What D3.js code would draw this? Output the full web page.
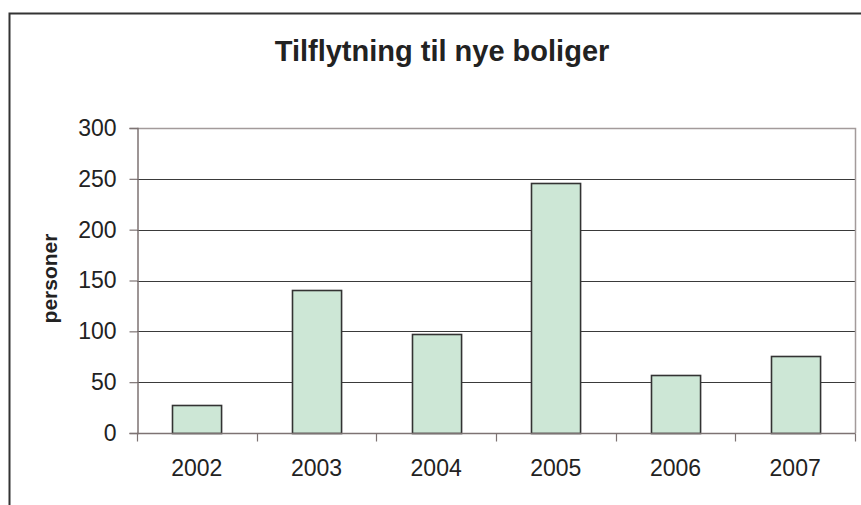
<!DOCTYPE html>
<html>
<head>
<meta charset="utf-8">
<script src="https://cdn.jsdelivr.net/npm/d3@7"></script>
<style>
  html, body { margin: 0; padding: 0; background: #fff; }
</style>
</head>
<body>
<script>
const years = ["2002", "2003", "2004", "2005", "2006", "2007"];
const persons = [28, 141, 97, 246, 57, 76];
const yTicks = [0, 50, 100, 150, 200, 250, 300];

const width = 861;
const height = 505;
const plot = { left: 137, top: 128, right: 855, bottom: 433 };
const font = "'Liberation Sans', Arial, Helvetica, sans-serif";

const colors = {
  text: "#222",
  frame: "#333",
  grid: "#3a3a3a",
  axis: "#7d7373",
  plotEdge: "#a39b9b",
  barFill: "#cde7d6",
  barStroke: "#333",
};

const svg = d3.select("body")
  .append("svg")
  .attr("width", width)
  .attr("height", height)
  .attr("viewBox", `0 0 ${width} ${height}`);

svg.append("rect").attr("width", width).attr("height", height).attr("fill", "#fff");

// outer chart frame (runs off the right and bottom edge)
svg.append("rect")
  .attr("x", 9.5)
  .attr("y", 13.5)
  .attr("width", 900)
  .attr("height", 600)
  .attr("fill", "none")
  .attr("stroke", colors.frame)
  .attr("stroke-width", 2);

svg.append("text")
  .attr("x", 442)
  .attr("y", 61)
  .attr("text-anchor", "middle")
  .attr("fill", colors.text)
  .attr("font-family", font)
  .attr("font-size", 29)
  .attr("font-weight", 700)
  .text("Tilflytning til nye boliger");

const x = d3.scaleBand()
  .domain(years)
  .range([plot.left, plot.right])
  .paddingInner(0.59)
  .paddingOuter(0.295);

const y = d3.scaleLinear()
  .domain([0, 300])
  .range([plot.bottom, plot.top]);

// gridlines
svg.append("g")
  .selectAll("line")
  .data(yTicks.filter((d) => d > 0 && d < 300))
  .join("line")
  .attr("x1", plot.left)
  .attr("x2", plot.right)
  .attr("y1", (d) => Math.round(y(d)) + 0.5)
  .attr("y2", (d) => Math.round(y(d)) + 0.5)
  .attr("stroke", colors.grid)
  .attr("stroke-width", 1);

// plot area top and right edge
svg.append("path")
  .attr("d", `M${plot.left},${plot.top + 0.5}H${plot.right + 0.5}V${plot.bottom}`)
  .attr("fill", "none")
  .attr("stroke", colors.plotEdge)
  .attr("stroke-width", 1.5);

// bars
svg.append("g")
  .selectAll("rect")
  .data(years)
  .join("rect")
  .attr("x", (d) => Math.round(x(d)) + 0.5)
  .attr("y", (d, i) => Math.round(y(persons[i])) + 0.5)
  .attr("width", x.bandwidth())
  .attr("height", (d, i) => Math.round(y(0)) - Math.round(y(persons[i])))
  .attr("fill", colors.barFill)
  .attr("stroke", colors.barStroke)
  .attr("stroke-width", 1.6);

// y axis
svg.append("g")
  .attr("transform", `translate(${plot.left + 0.5},0)`)
  .call(d3.axisLeft(y).tickValues(yTicks).tickSize(8).tickPadding(13))
  .call((g) => g.select(".domain").attr("stroke", colors.axis).attr("stroke-width", 1.5))
  .call((g) => g.selectAll(".tick line").attr("stroke", colors.axis).attr("stroke-width", 1.2))
  .call((g) => g.selectAll(".tick text")
    .attr("fill", colors.text)
    .attr("font-family", font)
    .attr("font-size", 23));

// x axis: ticks at category boundaries
const xAxis = svg.append("g")
  .attr("transform", `translate(0,${Math.round(plot.bottom) + 0.5})`);

xAxis.append("line")
  .attr("x1", plot.left)
  .attr("x2", plot.right + 0.5)
  .attr("stroke", colors.axis)
  .attr("stroke-width", 1.5);

const step = x.step();
const edges = d3.range(years.length + 1).map((i) => plot.left + i * step);
xAxis.selectAll("line.tick")
  .data(edges)
  .join("line")
  .attr("class", "tick")
  .attr("x1", (d) => Math.round(d) + 0.5)
  .attr("x2", (d) => Math.round(d) + 0.5)
  .attr("y1", 0)
  .attr("y2", 8)
  .attr("stroke", colors.axis)
  .attr("stroke-width", 1.2);

xAxis.selectAll("text")
  .data(years)
  .join("text")
  .attr("x", (d) => x(d) + x.bandwidth() / 2)
  .attr("y", 42)
  .attr("text-anchor", "middle")
  .attr("fill", colors.text)
  .attr("font-family", font)
  .attr("font-size", 23)
  .text((d) => d);

svg.append("text")
  .attr("transform", `translate(57,${(plot.top + plot.bottom) / 2 - 2}) rotate(-90)`)
  .attr("text-anchor", "middle")
  .attr("fill", colors.text)
  .attr("font-family", font)
  .attr("font-size", 21)
  .attr("font-weight", 700)
  .text("personer");
</script>
</body>
</html>
